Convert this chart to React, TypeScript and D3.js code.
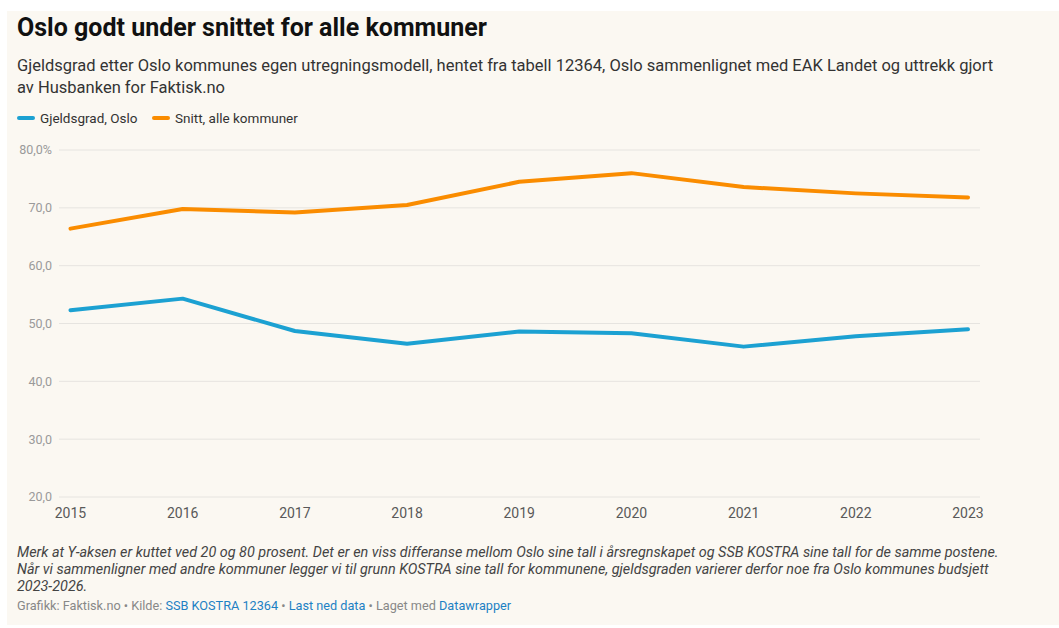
import * as d3 from 'd3';

// Data
const years = [2015, 2016, 2017, 2018, 2019, 2020, 2021, 2022, 2023];
const osloValues = [52.3, 54.3, 48.7, 46.5, 48.6, 48.3, 46.0, 47.8, 49.0];
const snittValues = [66.4, 69.8, 69.2, 70.5, 74.5, 76.0, 73.6, 72.5, 71.8];
const yTicks = [20, 30, 40, 50, 60, 70, 80];

const seriesNames = ['Gjeldsgrad, Oslo', 'Snitt, alle kommuner'];
const seriesColors = ['#1ca1d2', '#fa8c00'];

const W = 1059;
const H = 628;
const FONT = 'Roboto, "Noto Sans", sans-serif';

export default function App() {
  const x = d3.scaleLinear().domain([2015, 2023]).range([70.5, 968]);
  const y = d3.scaleLinear().domain([20, 80]).range([497, 150]);

  const line = d3
    .line<number>()
    .x((_, i) => x(years[i]))
    .y((d) => y(d));

  const fmtTick = (v: number) => v.toFixed(1).replace('.', ',') + (v === 80 ? '%' : '');

  return (
    <div style={{ position: 'absolute', left: 0, top: 0 }}>
      <svg width={W} height={H} style={{ display: 'block', fontFamily: FONT }}>
        <rect x={0} y={0} width={W} height={H} fill="#ffffff" />
        <rect x={7} y={11} width={W - 7} height={614} fill="#fbf8f2" />

        {/* Title & subtitle */}
        <text x={17} y={36} fontSize={25} fontWeight={700} fill="#111">
          Oslo godt under snittet for alle kommuner
        </text>
        <text x={17} y={71} fontSize={16.5} fill="#333">
          Gjeldsgrad etter Oslo kommunes egen utregningsmodell, hentet fra tabell 12364, Oslo sammenlignet med EAK Landet og uttrekk gjort
        </text>
        <text x={17} y={93} fontSize={16.5} fill="#333">
          av Husbanken for Faktisk.no
        </text>

        {/* Legend */}
        {seriesNames.map((name, i) => {
          const lx = i === 0 ? 17 : 152;
          return (
            <g key={name}>
              <line x1={lx + 2} x2={lx + 16} y1={118} y2={118} stroke={seriesColors[i]} strokeWidth={4} strokeLinecap="round" />
              <text x={lx + 23} y={122.5} fontSize={13.5} fill="#333">
                {name}
              </text>
            </g>
          );
        })}

        {/* Grid + y axis */}
        {yTicks.map((t) => (
          <g key={t}>
            <line x1={59} x2={980} y1={y(t)} y2={y(t)} stroke="#e6e4e0" strokeWidth={1} />
            <text x={52} y={y(t)} dy="0.35em" textAnchor="end" fontSize={12.5} fill="#9a9a9a">
              {fmtTick(t)}
            </text>
          </g>
        ))}

        {/* X axis labels */}
        {years.map((yr) => (
          <text key={yr} x={x(yr)} y={518} textAnchor="middle" fontSize={14} fill="#595959">
            {yr}
          </text>
        ))}

        {/* Lines */}
        {[osloValues, snittValues].map((vals, i) => (
          <path
            key={i}
            d={line(vals) ?? ''}
            fill="none"
            stroke={seriesColors[i]}
            strokeWidth={4}
            strokeLinejoin="round"
            strokeLinecap="round"
          />
        ))}

        {/* Notes */}
        <g fontSize={14.4} fontStyle="italic" fill="#444">
          <text x={17} y={557}>
            Merk at Y-aksen er kuttet ved 20 og 80 prosent. Det er en viss differanse mellom Oslo sine tall i årsregnskapet og SSB KOSTRA sine tall for de samme postene.
          </text>
          <text x={17} y={574}>
            Når vi sammenligner med andre kommuner legger vi til grunn KOSTRA sine tall for kommunene, gjeldsgraden varierer derfor noe fra Oslo kommunes budsjett
          </text>
          <text x={17} y={591}>
            2023-2026.
          </text>
        </g>

        {/* Footer */}
        <text x={17} y={610} fontSize={12.7} fill="#888">
          Grafikk: Faktisk.no • Kilde: <tspan fill="#1d81c4">SSB KOSTRA 12364</tspan> • <tspan fill="#1d81c4">Last ned data</tspan> • Laget med{' '}
          <tspan fill="#1d81c4">Datawrapper</tspan>
        </text>
      </svg>
    </div>
  );
}
